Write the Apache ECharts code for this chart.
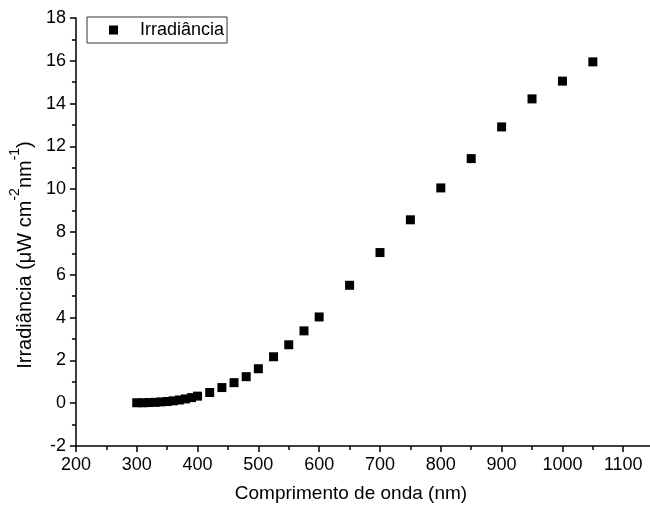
<!DOCTYPE html>
<html>
<head>
<meta charset="utf-8">
<script src="https://cdn.jsdelivr.net/npm/echarts@6/dist/echarts.min.js"></script>
<style>
  html, body { margin: 0; padding: 0; background: #fff; }
  #chart { width: 650px; height: 513px; }
</style>
</head>
<body>
<div id="chart"></div>
<script>
// wavelength (nm) and irradiance (uW cm-2 nm-1)
const wavelength = [300, 310, 320, 330, 340, 350, 360, 370, 380, 390, 400,
  420, 440, 460, 480, 500, 525, 550, 575, 600,
  650, 700, 750, 800, 850, 900, 950, 1000, 1050]
const irradiance = [0.02, 0.02, 0.03, 0.04, 0.06, 0.08, 0.11, 0.15, 0.2, 0.26, 0.33,
  0.5, 0.73, 0.96, 1.24, 1.61, 2.17, 2.73, 3.38, 4.03,
  5.51, 7.04, 8.57, 10.06, 11.43, 12.91, 14.22, 15.05, 15.95]
const xTicks = [200, 300, 400, 500, 600, 700, 800, 900, 1000, 1100]
const xMinorTicks = [250, 350, 450, 550, 650, 750, 850, 950, 1050]

const FONT = 'Liberation Sans, Arial, sans-serif'
const X_MIN = 200
const X_MAX = 1144 // axis runs off the right edge in the original

const tickLine = { color: '#000', width: 1.5 }

let chart = echarts.init(document.getElementById('chart'))
chart.setOption({
  animation: false,
  backgroundColor: '#fff',
  grid: {
    left: 74,
    top: 18,
    bottom: 67,
    right: 0
  },
  legend: {
    left: 87,
    top: 17,
    padding: [4, 3, 4, 22],
    itemWidth: 9,
    itemHeight: 9,
    borderColor: '#333',
    borderWidth: 1,
    icon: 'rect',
    data: ['Irradiância'],
    textStyle: {
      fontFamily: FONT,
      fontSize: 18,
      color: '#000',
      padding: [0, 0, 0, 17]
    }
  },
  xAxis: [
    {
      type: 'value',
      position: 'bottom',
      min: X_MIN,
      max: X_MAX,
      interval: 100,
      name: 'Comprimento de onda (nm)',
      nameLocation: 'middle',
      nameGap: 38,
      nameTextStyle: {
        fontFamily: FONT,
        fontSize: 19,
        color: '#000',
        padding: [0, 24, 0, 0]
      },
      axisLine: { show: true, onZero: false, lineStyle: tickLine },
      axisTick: { show: true, inside: false, length: 6, customValues: xTicks, lineStyle: tickLine },
      splitLine: { show: false },
      axisLabel: {
        margin: 10,
        fontFamily: FONT,
        fontSize: 18,
        color: '#000',
        customValues: xTicks,
        formatter: v => String(v)
      }
    },
    {
      // minor ticks only
      type: 'value',
      position: 'bottom',
      offset: 0,
      min: X_MIN,
      max: X_MAX,
      axisLine: { show: false, onZero: false },
      axisTick: { show: true, inside: false, length: 4, customValues: xMinorTicks, lineStyle: tickLine },
      axisLabel: { show: false },
      splitLine: { show: false }
    }
  ],
  yAxis: {
    type: 'value',
    min: -2,
    max: 18,
    interval: 2,
    name: '{a|Irradiância (μW cm}{s|-2}{a|nm}{s|-1}{a|)}',
    nameLocation: 'middle',
    nameGap: 34,
    nameTextStyle: {
      fontFamily: FONT,
      color: '#000',
      padding: [0, 46, 0, 0],
      rich: {
        a: { fontFamily: FONT, fontSize: 20, color: '#000', verticalAlign: 'bottom', lineHeight: 27 },
        s: { fontFamily: FONT, fontSize: 14, color: '#000', verticalAlign: 'top', lineHeight: 27 }
      }
    },
    axisLine: { show: true, onZero: false, lineStyle: tickLine },
    axisTick: { show: true, inside: false, length: 6, lineStyle: tickLine },
    minorTick: { show: true, splitNumber: 2, length: 4, lineStyle: tickLine },
    splitLine: { show: false },
    axisLabel: {
      margin: 10,
      fontFamily: FONT,
      fontSize: 18,
      color: '#000'
    }
  },
  series: [
    {
      name: 'Irradiância',
      type: 'scatter',
      xAxisIndex: 0,
      symbol: 'rect',
      symbolSize: 9,
      itemStyle: { color: '#000', opacity: 1 },
      data: wavelength.map((w, i) => [w, irradiance[i]])
    }
  ]
})
</script>
</body>
</html>
